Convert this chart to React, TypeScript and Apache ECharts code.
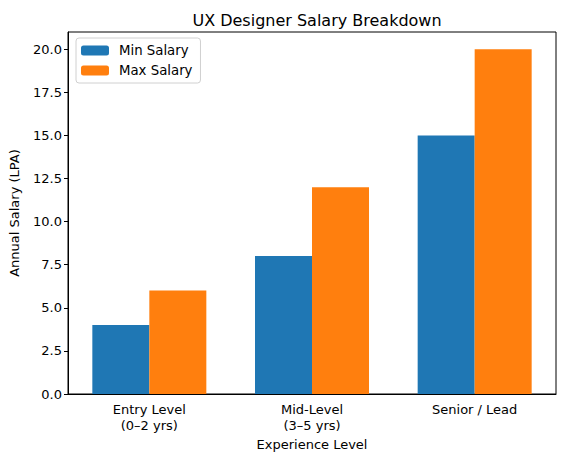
import React, { useEffect, useRef } from "react";
import * as echarts from "echarts";

const categories = ["Entry Level\n(0–2 yrs)", "Mid-Level\n(3–5 yrs)", "Senior / Lead"];
const minSalary = [4, 8, 15];
const maxSalary = [6, 12, 20];
const yTicks = [0, 2.5, 5, 7.5, 10, 12.5, 15, 17.5, 20];

const FONT = "DejaVu Sans";

export default function App() {
  const ref = useRef<HTMLDivElement>(null);

  useEffect(() => {
    document.body.style.margin = "0";
    const chart = echarts.init(ref.current!, null, { renderer: "svg" });
    chart.setOption({
      animation: false,
      backgroundColor: "#ffffff",
      textStyle: { fontFamily: FONT },
      title: {
        text: "UX Designer Salary Breakdown",
        left: 312,
        textAlign: "center",
        top: 7,
        textStyle: { fontFamily: FONT, fontSize: 16, fontWeight: "normal", color: "#000" },
      },
      legend: {
        orient: "vertical",
        left: 76,
        top: 38,
        padding: [6, 8, 6, 5],
        itemWidth: 28,
        itemHeight: 10,
        itemGap: 7,
        backgroundColor: "#ffffff",
        borderColor: "#d0d0d0",
        borderWidth: 1,
        borderRadius: 3,
        textStyle: { fontFamily: FONT, fontSize: 13.3, color: "#000", padding: [0, 0, 0, 5] },
        data: ["Min Salary", "Max Salary"],
      },
      grid: {
        left: 68,
        right: 8,
        top: 32,
        bottom: 68,
        show: true,
        borderColor: "#000",
        borderWidth: 1,
        backgroundColor: "transparent",
      },
      xAxis: {
        type: "category",
        data: categories,
        name: "Experience Level",
        nameLocation: "middle",
        nameGap: 44,
        nameTextStyle: { fontFamily: FONT, fontSize: 13, color: "#000" },
        axisLine: { lineStyle: { color: "#000" } },
        axisTick: { alignWithLabel: true, length: 4, lineStyle: { color: "#000" } },
        axisLabel: { fontFamily: FONT, fontSize: 13, color: "#000", margin: 7, lineHeight: 16 },
      },
      yAxis: {
        type: "value",
        min: 0,
        max: 21,
        interval: 2.5,
        name: "Annual Salary (LPA)",
        nameLocation: "middle",
        nameGap: 47,
        nameTextStyle: { fontFamily: FONT, fontSize: 13, color: "#000" },
        splitLine: { show: false },
        axisLine: { show: true, lineStyle: { color: "#000" } },
        axisTick: { show: true, length: 4, customValues: yTicks, lineStyle: { color: "#000" } },
        axisLabel: {
          fontFamily: FONT,
          fontSize: 13,
          color: "#000",
          margin: 6,
          customValues: yTicks,
          formatter: (v: number) => v.toFixed(1),
        },
      },
      series: [
        {
          name: "Min Salary",
          type: "bar",
          data: minSalary,
          barWidth: 57,
          barGap: "0%",
          itemStyle: { color: "#1f77b4" },
        },
        {
          name: "Max Salary",
          type: "bar",
          data: maxSalary,
          barWidth: 57,
          barGap: "0%",
          itemStyle: { color: "#ff7f0e" },
        },
      ],
    });
    return () => chart.dispose();
  }, []);

  return <div ref={ref} style={{ width: 564, height: 462 }} />;
}
